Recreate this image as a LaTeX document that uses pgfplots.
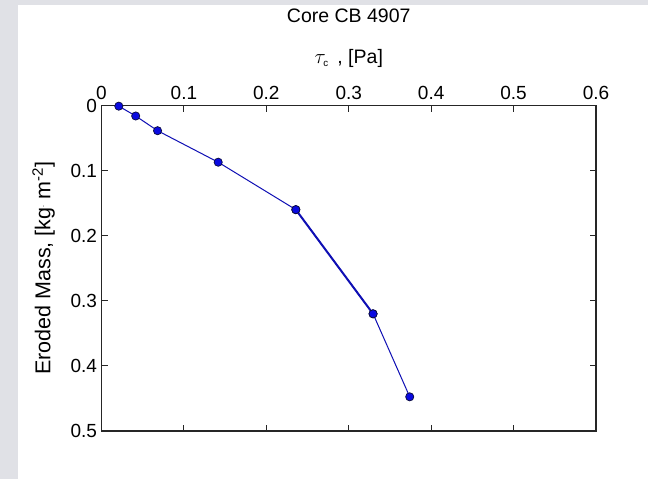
\documentclass[border=0pt]{standalone}
\usepackage{fontspec}
\setmainfont{Liberation Sans}
\usepackage{pgfplots}
\pgfplotsset{compat=1.18}

\definecolor{panelgray}{RGB}{224,225,230}
\definecolor{lineblue}{RGB}{15,15,180}
\definecolor{markblue}{RGB}{10,10,225}
\definecolor{markedge}{RGB}{10,10,60}

\begin{document}
\begin{tikzpicture}[x=1pt,y=1pt]
  % window background and white figure panel
  \fill[panelgray] (0,0) rectangle (648,479);
  \fill[white] (18,0) rectangle (648,474);
  \begin{axis}[
    at={(101.5pt,48pt)}, anchor=south west,
    scale only axis,
    width=494.5pt, height=325.5pt,
    xmin=0, xmax=0.6, ymin=0, ymax=0.5,
    y dir=reverse,
    xtick={0,0.1,...,0.6},
    ytick={0,0.1,...,0.5},
    xticklabel pos=right,
    tick align=inside,
    major tick length=6pt,
    axis line style={line width=1.2pt, black!85},
    every tick/.style={line width=1pt, black!85},
    /pgf/number format/assume math mode=true,
    /pgf/number format/fixed,
    ticklabel style={font=\fontsize{19}{22}\selectfont},
    xticklabel style={anchor=center, yshift=13pt},
    yticklabel style={xshift=-1pt},
    title={Core CB 4907},
    title style={at={(axis description cs:0.5,1)}, anchor=center, yshift=83.5pt, font=\fontsize{19.5}{23}\selectfont},
    xlabel={$\tau_{\scriptscriptstyle\mathrm{c}}$\, , [Pa]},
    xlabel style={at={(axis description cs:0.5,1)}, anchor=center, yshift=47.5pt, font=\fontsize{19.5}{23}\selectfont},
    ylabel={Eroded Mass, [kg\raisebox{0.55ex}{\scriptsize.} m\textsuperscript{-2}]},
    ylabel style={at={(axis description cs:0,0.5)}, anchor=center, yshift=58pt, font=\fontsize{21.5}{25}\selectfont},
  ]
    \addplot[color=lineblue, line width=1pt,
      mark=*, mark size=4.1pt,
      mark options={fill=markblue, draw=markedge, line width=0.7pt}]
      coordinates {
        (0.021, 0.001)
        (0.0415, 0.0161)
        (0.068, 0.0387)
        (0.1416, 0.0871)
        (0.2358, 0.160)
        (0.3295, 0.320)
        (0.374, 0.4475)
      };
    % doubled trace on the steep segment
    \addplot[color=lineblue, line width=2pt, forget plot] coordinates {
        (0.2358, 0.160)
        (0.3295, 0.320)
      };
    \addplot[only marks, mark=*, mark size=4.1pt,
      mark options={fill=markblue, draw=markedge, line width=0.7pt}, forget plot]
      coordinates {(0.2358, 0.160) (0.3295, 0.320)};
  \end{axis}
  \pgfresetboundingbox
  \useasboundingbox (0,0) rectangle (648,479);
\end{tikzpicture}
\end{document}
